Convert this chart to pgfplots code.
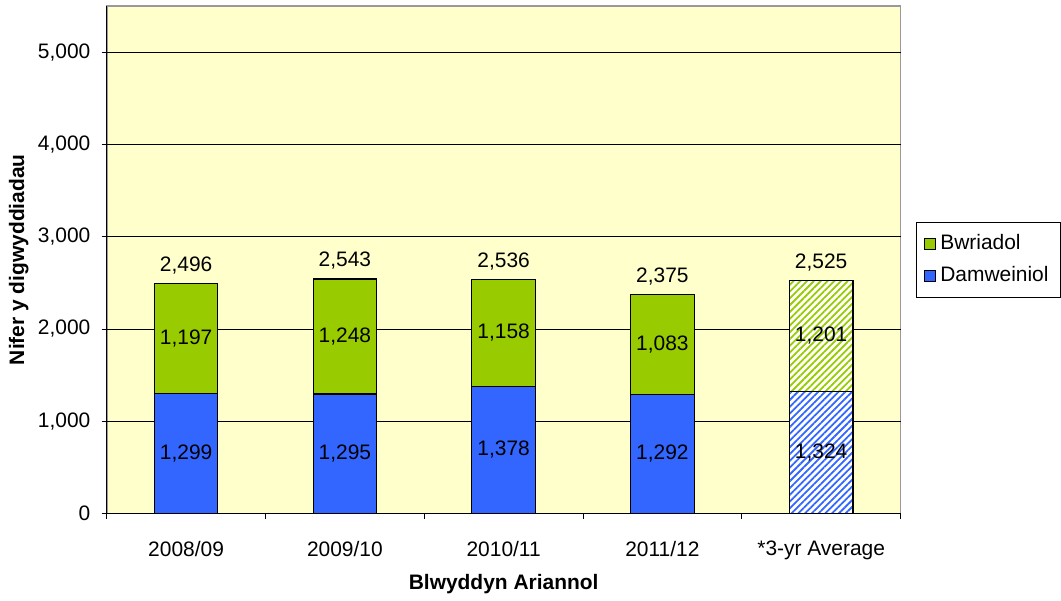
\documentclass[border=0pt]{standalone}
\usepackage{fontspec}
\setmainfont{Liberation Sans}
\usepackage{pgfplots}
\pgfplotsset{compat=1.18}
\usetikzlibrary{patterns.meta}
\definecolor{bgreen}{HTML}{99CC00}
\definecolor{bblue}{HTML}{3366FF}
\definecolor{bgyel}{HTML}{FFFFCC}
\begin{document}
\fontsize{10.5}{12.6}\selectfont
\begin{tikzpicture}
\pgfkeys{/pgf/number format/.cd, 1000 sep={,}, assume math mode=true}
\begin{axis}[
  scale only axis,
  width=398pt, height=254.5pt,
  xmin=-0.5, xmax=4.5, ymin=0, ymax=5500,
  axis x line*=bottom, axis y line*=left,
  axis line style={black, line width=0.6pt},
  axis background/.style={fill=bgyel, draw=gray!80, line width=0.8pt},
  ytick={0,1000,...,5000},
  ymajorgrids, grid style={black, line width=0.5pt},
  tick align=outside, major tick length=2.5pt,
  tick style={black, line width=0.5pt},
  xtick={-0.5,0.5,...,4.5},
  x tick label as interval,
  xticklabels={2008/09,2009/10,2010/11,2011/12,*3-yr Average},
  xticklabel style={yshift=-7.5pt},
  yticklabel style={xshift=-2pt},
  ticklabel style={font=\fontsize{10.5}{12.6}\selectfont},
  xlabel={\textbf{Blwyddyn Ariannol}},
  ylabel={\textbf{Nifer y digwyddiadau}},
  xlabel style={font=\fontsize{10.5}{12.6}\selectfont, yshift=0pt},
  ylabel style={font=\fontsize{10.5}{12.6}\selectfont},
  ylabel shift=-2.5pt,
  legend style={at={(1.019,0.5)}, anchor=west, draw=black, line width=0.5pt,
    font=\fontsize{10.5}{12.6}\selectfont, row sep=3pt, inner xsep=4pt, inner ysep=4pt,
    cells={anchor=west}},
  legend image code/.code={\draw[#1,draw=black,line width=0.5pt] (0pt,-2.8pt) rectangle (5.6pt,2.8pt);},
  nodes near coords={\pgfmathprintnumber{\pgfplotspointmeta}},
]
\coordinate (O) at (rel axis cs:0,0);
\addplot[ybar, bar width=0.4, bar shift=0pt, fill=bgreen, draw=black, line width=0.6pt, nodes near coords={}]
  coordinates {(0,2496) (1,2543) (2,2536) (3,2375)};
\addlegendentry{Bwriadol}
\addplot[ybar, bar width=0.4, bar shift=0pt, fill=bblue, draw=black, line width=0.6pt, nodes near coords={}]
  coordinates {(0,1299) (1,1295) (2,1378) (3,1292)};
\addlegendentry{Damweiniol}
\addplot[ybar, bar width=0.4, bar shift=0pt, fill=white, draw=black, line width=0.6pt, forget plot, nodes near coords={},
  postaction={pattern={Lines[angle=45, distance=2.4pt, line width=0.9pt]}, pattern color=bgreen}]
  coordinates {(4,2525)};
\addplot[ybar, bar width=0.4, bar shift=0pt, fill=white, draw=black, line width=0.6pt, forget plot, nodes near coords={},
  postaction={pattern={Lines[angle=45, distance=2.4pt, line width=0.9pt]}, pattern color=bblue}]
  coordinates {(4,1324)};
\addplot[only marks, mark=none, forget plot, point meta=explicit,
  every node near coord/.append style={anchor=center, font=\fontsize{10.5}{12.6}\selectfont}]
  coordinates {(0,649.5)[1299] (1,647.5)[1295] (2,689)[1378] (3,646)[1292] (4,662)[1324]
               (0,1897.5)[1197] (1,1919)[1248] (2,1957)[1158] (3,1833.5)[1083] (4,1924.5)[1201]};
\addplot[only marks, mark=none, forget plot, point meta=explicit,
  every node near coord/.append style={anchor=center, yshift=9pt, font=\fontsize{10.5}{12.6}\selectfont}]
  coordinates {(0,2496)[2496] (1,2543)[2543] (2,2536)[2536] (3,2375)[2375] (4,2525)[2525]};
\end{axis}
\path (O) ++(-53.5pt,-39pt) rectangle ++(530.5pt,296.5pt);
\end{tikzpicture}
\end{document}
